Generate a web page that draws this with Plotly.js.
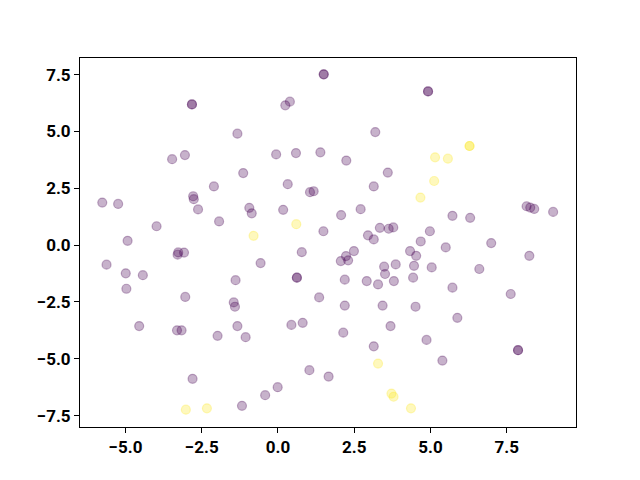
<!DOCTYPE html>
<html>
<head>
<meta charset="utf-8">
<script src="https://cdn.plot.ly/plotly-3.0.1.min.js"></script>
<style>html,body{margin:0;padding:0;background:#fff}#chart{width:640px;height:480px}</style>
</head>
<body>
<div id="chart"></div>
<script>
const xs = [-2.82,-2.82,-1.33,-3.47,-3.05,-1.14,-2.10,1.50,1.50,0.39,0.24,3.19,-0.06,0.59,1.39,2.24,3.60,0.32,3.14,4.92,4.92,
-5.76,-5.24,-2.78,-2.76,-2.62,-1.93,-3.98,-0.94,-0.86,-4.93,-3.27,-3.29,-3.08,-5.62,-4.99,-4.43,-4.97,-3.04,-1.39,-1.45,-1.41,
1.05,1.17,0.17,2.07,2.71,1.49,3.34,3.63,3.78,2.95,3.14,0.78,-0.57,2.49,2.23,2.06,2.30,3.48,3.86,3.51,0.62,0.62,2.19,2.91,3.28,3.80,1.35,2.19,3.43,
8.15,8.27,8.40,9.02,5.72,6.30,4.98,4.68,5.50,6.99,4.33,4.53,4.46,5.04,6.60,8.24,4.43,5.72,7.63,4.51,
-4.55,-3.31,-3.16,-1.98,-1.33,-1.06,-2.80,-1.18,0.44,0.81,2.14,3.69,3.14,1.03,1.66,-0.01,-0.42,5.88,4.87,5.39,7.87,7.87,
6.28,6.28,5.15,5.57,5.12,4.67,-0.80,0.60,-3.02,-2.33,3.28,3.72,3.79,4.36];
const ys = [6.19,6.19,4.90,3.78,3.96,3.17,2.58,7.51,7.51,6.31,6.15,4.97,3.99,4.05,4.08,3.72,3.19,2.68,2.58,6.76,6.76,
1.87,1.81,2.15,2.02,1.57,1.04,0.83,1.64,1.40,0.19,-0.32,-0.42,-0.33,-0.86,-1.24,-1.32,-1.92,-2.28,-1.54,-2.52,-2.71,
2.33,2.37,1.55,1.32,1.58,0.61,0.76,0.72,0.78,0.43,0.25,-0.31,-0.79,-0.26,-0.48,-0.70,-0.67,-0.95,-0.85,-1.27,-1.43,-1.43,-1.52,-1.58,-1.73,-1.58,-2.30,-2.66,-2.66,
1.71,1.65,1.59,1.46,1.29,1.20,0.61,0.16,-0.10,0.09,-0.26,-0.47,-0.91,-0.98,-1.05,-0.47,-1.43,-1.87,-2.15,-2.71,
-3.56,-3.75,-3.75,-3.99,-3.56,-4.05,-5.88,-7.07,-3.51,-3.42,-3.85,-3.56,-4.45,-5.50,-5.78,-6.25,-6.60,-3.20,-4.17,-5.08,-4.62,-4.62,
4.36,4.36,3.86,3.80,2.82,2.09,0.41,0.92,-7.24,-7.18,-5.21,-6.53,-6.67,-7.18];
const labels = xs.map((_, i) => i >= xs.length - 14 ? 1 : 0);
const xTicks = [-5, -2.5, 0, 2.5, 5, 7.5];
const yTicks = [-7.5, -5, -2.5, 0, 2.5, 5, 7.5];

const fillCol = v => v ? 'rgba(253,231,37,0.3)' : 'rgba(68,1,84,0.3)';
const trace = {
  type: 'scatter', mode: 'markers', x: xs, y: ys,
  marker: {size: 9, color: labels.map(fillCol), line: {width: 1.2, color: labels.map(fillCol)}},
  hoverinfo: 'none'
};
const fnt = {family: 'Roboto, "DejaVu Sans", sans-serif', size: 17, color: '#000', weight: 'bold'};
const axBase = {showgrid: false, zeroline: false, showline: true, mirror: true, linecolor: '#000', linewidth: 1,
  ticks: 'outside', ticklen: 5, tickwidth: 1, tickcolor: '#000', tickfont: fnt, tickformat: '.1f', tickmode: 'array'};
const layout = {
  width: 640, height: 480, paper_bgcolor: '#fff', plot_bgcolor: '#fff', showlegend: false,
  margin: {l: 80, r: 64, t: 57.6, b: 52.8},
  xaxis: Object.assign({}, axBase, {range: [-6.49, 9.77], tickvals: xTicks}),
  yaxis: Object.assign({}, axBase, {range: [-8.0, 8.23], tickvals: yTicks})
};
Plotly.newPlot('chart', [trace], layout, {staticPlot: true});
</script>
</body>
</html>
